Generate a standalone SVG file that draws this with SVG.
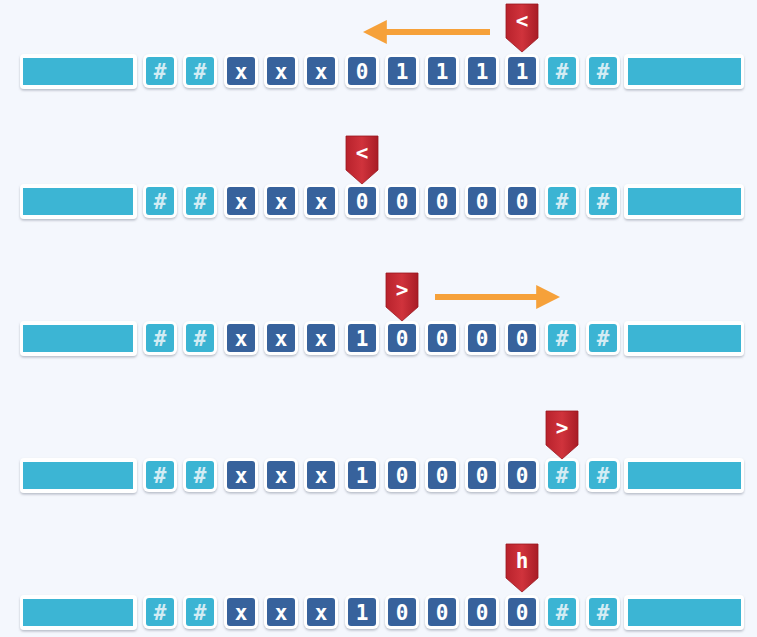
<svg xmlns="http://www.w3.org/2000/svg" width="757" height="637" viewBox="0 0 757 637">
<defs>
<filter id="sh" x="-20%" y="-20%" width="140%" height="160%">
<feDropShadow dx="0" dy="1.5" stdDeviation="1" flood-color="#6a7384" flood-opacity="0.45"/>
</filter>
<linearGradient id="red" x1="0" y1="0" x2="1" y2="0">
<stop offset="0" stop-color="#b8222c"/>
<stop offset="0.5" stop-color="#d0333c"/>
<stop offset="1" stop-color="#a81c26"/>
</linearGradient>
<marker id="ah" viewBox="0 0 10 10" refX="2" refY="5" markerWidth="4" markerHeight="4" orient="auto" markerUnits="strokeWidth">
<path d="M0,0 L10,5 L0,10 Z" fill="#f6a13a"/>
</marker>
</defs>
<style>
.frame{fill:#ffffff;filter:url(#sh)}
.dk{fill:#37629c}
.lt{fill:#3bb4d3}
.bar{fill:#3cb5d4}
.t{font-family:"DejaVu Sans Mono","Liberation Mono",monospace;font-weight:bold;font-size:21px;fill:#ffffff;text-anchor:middle}
.h{fill:#d3ecf4}
.mk{fill:url(#red);stroke:#9a1820;stroke-width:0.8}
.mt{font-family:"DejaVu Sans Mono","Liberation Mono",monospace;font-weight:bold;font-size:21px;fill:#ffffff;text-anchor:middle}
.arr{stroke:#f6a13a;stroke-width:6;fill:none}
</style>
<rect width="757" height="637" fill="#f4f7fd"/>

<!-- Row 1 -->
<g id="row1">
<g id="r1-left"><rect class="frame" x="20" y="54" width="117" height="35" rx="4"/><rect class="bar" x="23" y="58" width="110" height="27"/></g>
<g id="r1-c0" transform="translate(146,57)"><rect class="frame" x="-3" y="-3" width="34" height="34" rx="6"/><rect class="lt" width="28" height="28" rx="3"/><text class="t h" x="14" y="22">#</text></g>
<g id="r1-c1" transform="translate(186,57)"><rect class="frame" x="-3" y="-3" width="34" height="34" rx="6"/><rect class="lt" width="28" height="28" rx="3"/><text class="t h" x="14" y="22">#</text></g>
<g id="r1-c2" transform="translate(227,57)"><rect class="frame" x="-3" y="-3" width="34" height="34" rx="6"/><rect class="dk" width="28" height="28" rx="3"/><text class="t" x="14" y="22">x</text></g>
<g id="r1-c3" transform="translate(267,57)"><rect class="frame" x="-3" y="-3" width="34" height="34" rx="6"/><rect class="dk" width="28" height="28" rx="3"/><text class="t" x="14" y="22">x</text></g>
<g id="r1-c4" transform="translate(307,57)"><rect class="frame" x="-3" y="-3" width="34" height="34" rx="6"/><rect class="dk" width="28" height="28" rx="3"/><text class="t" x="14" y="22">x</text></g>
<g id="r1-c5" transform="translate(348,57)"><rect class="frame" x="-3" y="-3" width="34" height="34" rx="6"/><rect class="dk" width="28" height="28" rx="3"/><text class="t" x="14" y="22">0</text></g>
<g id="r1-c6" transform="translate(388,57)"><rect class="frame" x="-3" y="-3" width="34" height="34" rx="6"/><rect class="dk" width="28" height="28" rx="3"/><text class="t" x="14" y="22">1</text></g>
<g id="r1-c7" transform="translate(428,57)"><rect class="frame" x="-3" y="-3" width="34" height="34" rx="6"/><rect class="dk" width="28" height="28" rx="3"/><text class="t" x="14" y="22">1</text></g>
<g id="r1-c8" transform="translate(468,57)"><rect class="frame" x="-3" y="-3" width="34" height="34" rx="6"/><rect class="dk" width="28" height="28" rx="3"/><text class="t" x="14" y="22">1</text></g>
<g id="r1-c9" transform="translate(508,57)"><rect class="frame" x="-3" y="-3" width="34" height="34" rx="6"/><rect class="dk" width="28" height="28" rx="3"/><text class="t" x="14" y="22">1</text></g>
<g id="r1-c10" transform="translate(548,57)"><rect class="frame" x="-3" y="-3" width="34" height="34" rx="6"/><rect class="lt" width="28" height="28" rx="3"/><text class="t h" x="14" y="22">#</text></g>
<g id="r1-c11" transform="translate(589,57)"><rect class="frame" x="-3" y="-3" width="34" height="34" rx="6"/><rect class="lt" width="28" height="28" rx="3"/><text class="t h" x="14" y="22">#</text></g>
<g id="r1-right"><rect class="frame" x="624" y="54" width="120" height="35" rx="4"/><rect class="bar" x="628" y="58" width="113" height="27"/></g>
<g id="r1-head" transform="translate(506,4)"><path class="mk" d="M0,0 H32 V34 L16,48 L0,34 Z"/><text class="mt" x="16" y="24">&lt;</text></g>
</g>

<!-- Row 2 -->
<g id="row2">
<g id="r2-left"><rect class="frame" x="20" y="184" width="117" height="35" rx="4"/><rect class="bar" x="23" y="188" width="110" height="27"/></g>
<g id="r2-c0" transform="translate(146,187)"><rect class="frame" x="-3" y="-3" width="34" height="34" rx="6"/><rect class="lt" width="28" height="28" rx="3"/><text class="t h" x="14" y="22">#</text></g>
<g id="r2-c1" transform="translate(186,187)"><rect class="frame" x="-3" y="-3" width="34" height="34" rx="6"/><rect class="lt" width="28" height="28" rx="3"/><text class="t h" x="14" y="22">#</text></g>
<g id="r2-c2" transform="translate(227,187)"><rect class="frame" x="-3" y="-3" width="34" height="34" rx="6"/><rect class="dk" width="28" height="28" rx="3"/><text class="t" x="14" y="22">x</text></g>
<g id="r2-c3" transform="translate(267,187)"><rect class="frame" x="-3" y="-3" width="34" height="34" rx="6"/><rect class="dk" width="28" height="28" rx="3"/><text class="t" x="14" y="22">x</text></g>
<g id="r2-c4" transform="translate(307,187)"><rect class="frame" x="-3" y="-3" width="34" height="34" rx="6"/><rect class="dk" width="28" height="28" rx="3"/><text class="t" x="14" y="22">x</text></g>
<g id="r2-c5" transform="translate(348,187)"><rect class="frame" x="-3" y="-3" width="34" height="34" rx="6"/><rect class="dk" width="28" height="28" rx="3"/><text class="t" x="14" y="22">0</text></g>
<g id="r2-c6" transform="translate(388,187)"><rect class="frame" x="-3" y="-3" width="34" height="34" rx="6"/><rect class="dk" width="28" height="28" rx="3"/><text class="t" x="14" y="22">0</text></g>
<g id="r2-c7" transform="translate(428,187)"><rect class="frame" x="-3" y="-3" width="34" height="34" rx="6"/><rect class="dk" width="28" height="28" rx="3"/><text class="t" x="14" y="22">0</text></g>
<g id="r2-c8" transform="translate(468,187)"><rect class="frame" x="-3" y="-3" width="34" height="34" rx="6"/><rect class="dk" width="28" height="28" rx="3"/><text class="t" x="14" y="22">0</text></g>
<g id="r2-c9" transform="translate(508,187)"><rect class="frame" x="-3" y="-3" width="34" height="34" rx="6"/><rect class="dk" width="28" height="28" rx="3"/><text class="t" x="14" y="22">0</text></g>
<g id="r2-c10" transform="translate(548,187)"><rect class="frame" x="-3" y="-3" width="34" height="34" rx="6"/><rect class="lt" width="28" height="28" rx="3"/><text class="t h" x="14" y="22">#</text></g>
<g id="r2-c11" transform="translate(589,187)"><rect class="frame" x="-3" y="-3" width="34" height="34" rx="6"/><rect class="lt" width="28" height="28" rx="3"/><text class="t h" x="14" y="22">#</text></g>
<g id="r2-right"><rect class="frame" x="624" y="184" width="120" height="35" rx="4"/><rect class="bar" x="628" y="188" width="113" height="27"/></g>
<g id="r2-head" transform="translate(346,136)"><path class="mk" d="M0,0 H32 V34 L16,48 L0,34 Z"/><text class="mt" x="16" y="24">&lt;</text></g>
</g>

<!-- Row 3 -->
<g id="row3">
<g id="r3-left"><rect class="frame" x="20" y="321" width="117" height="35" rx="4"/><rect class="bar" x="23" y="325" width="110" height="27"/></g>
<g id="r3-c0" transform="translate(146,324)"><rect class="frame" x="-3" y="-3" width="34" height="34" rx="6"/><rect class="lt" width="28" height="28" rx="3"/><text class="t h" x="14" y="22">#</text></g>
<g id="r3-c1" transform="translate(186,324)"><rect class="frame" x="-3" y="-3" width="34" height="34" rx="6"/><rect class="lt" width="28" height="28" rx="3"/><text class="t h" x="14" y="22">#</text></g>
<g id="r3-c2" transform="translate(227,324)"><rect class="frame" x="-3" y="-3" width="34" height="34" rx="6"/><rect class="dk" width="28" height="28" rx="3"/><text class="t" x="14" y="22">x</text></g>
<g id="r3-c3" transform="translate(267,324)"><rect class="frame" x="-3" y="-3" width="34" height="34" rx="6"/><rect class="dk" width="28" height="28" rx="3"/><text class="t" x="14" y="22">x</text></g>
<g id="r3-c4" transform="translate(307,324)"><rect class="frame" x="-3" y="-3" width="34" height="34" rx="6"/><rect class="dk" width="28" height="28" rx="3"/><text class="t" x="14" y="22">x</text></g>
<g id="r3-c5" transform="translate(348,324)"><rect class="frame" x="-3" y="-3" width="34" height="34" rx="6"/><rect class="dk" width="28" height="28" rx="3"/><text class="t" x="14" y="22">1</text></g>
<g id="r3-c6" transform="translate(388,324)"><rect class="frame" x="-3" y="-3" width="34" height="34" rx="6"/><rect class="dk" width="28" height="28" rx="3"/><text class="t" x="14" y="22">0</text></g>
<g id="r3-c7" transform="translate(428,324)"><rect class="frame" x="-3" y="-3" width="34" height="34" rx="6"/><rect class="dk" width="28" height="28" rx="3"/><text class="t" x="14" y="22">0</text></g>
<g id="r3-c8" transform="translate(468,324)"><rect class="frame" x="-3" y="-3" width="34" height="34" rx="6"/><rect class="dk" width="28" height="28" rx="3"/><text class="t" x="14" y="22">0</text></g>
<g id="r3-c9" transform="translate(508,324)"><rect class="frame" x="-3" y="-3" width="34" height="34" rx="6"/><rect class="dk" width="28" height="28" rx="3"/><text class="t" x="14" y="22">0</text></g>
<g id="r3-c10" transform="translate(548,324)"><rect class="frame" x="-3" y="-3" width="34" height="34" rx="6"/><rect class="lt" width="28" height="28" rx="3"/><text class="t h" x="14" y="22">#</text></g>
<g id="r3-c11" transform="translate(589,324)"><rect class="frame" x="-3" y="-3" width="34" height="34" rx="6"/><rect class="lt" width="28" height="28" rx="3"/><text class="t h" x="14" y="22">#</text></g>
<g id="r3-right"><rect class="frame" x="624" y="321" width="120" height="35" rx="4"/><rect class="bar" x="628" y="325" width="113" height="27"/></g>
<g id="r3-head" transform="translate(386,273)"><path class="mk" d="M0,0 H32 V34 L16,48 L0,34 Z"/><text class="mt" x="16" y="24">&gt;</text></g>
</g>

<!-- Row 4 -->
<g id="row4">
<g id="r4-left"><rect class="frame" x="20" y="458" width="117" height="35" rx="4"/><rect class="bar" x="23" y="462" width="110" height="27"/></g>
<g id="r4-c0" transform="translate(146,461)"><rect class="frame" x="-3" y="-3" width="34" height="34" rx="6"/><rect class="lt" width="28" height="28" rx="3"/><text class="t h" x="14" y="22">#</text></g>
<g id="r4-c1" transform="translate(186,461)"><rect class="frame" x="-3" y="-3" width="34" height="34" rx="6"/><rect class="lt" width="28" height="28" rx="3"/><text class="t h" x="14" y="22">#</text></g>
<g id="r4-c2" transform="translate(227,461)"><rect class="frame" x="-3" y="-3" width="34" height="34" rx="6"/><rect class="dk" width="28" height="28" rx="3"/><text class="t" x="14" y="22">x</text></g>
<g id="r4-c3" transform="translate(267,461)"><rect class="frame" x="-3" y="-3" width="34" height="34" rx="6"/><rect class="dk" width="28" height="28" rx="3"/><text class="t" x="14" y="22">x</text></g>
<g id="r4-c4" transform="translate(307,461)"><rect class="frame" x="-3" y="-3" width="34" height="34" rx="6"/><rect class="dk" width="28" height="28" rx="3"/><text class="t" x="14" y="22">x</text></g>
<g id="r4-c5" transform="translate(348,461)"><rect class="frame" x="-3" y="-3" width="34" height="34" rx="6"/><rect class="dk" width="28" height="28" rx="3"/><text class="t" x="14" y="22">1</text></g>
<g id="r4-c6" transform="translate(388,461)"><rect class="frame" x="-3" y="-3" width="34" height="34" rx="6"/><rect class="dk" width="28" height="28" rx="3"/><text class="t" x="14" y="22">0</text></g>
<g id="r4-c7" transform="translate(428,461)"><rect class="frame" x="-3" y="-3" width="34" height="34" rx="6"/><rect class="dk" width="28" height="28" rx="3"/><text class="t" x="14" y="22">0</text></g>
<g id="r4-c8" transform="translate(468,461)"><rect class="frame" x="-3" y="-3" width="34" height="34" rx="6"/><rect class="dk" width="28" height="28" rx="3"/><text class="t" x="14" y="22">0</text></g>
<g id="r4-c9" transform="translate(508,461)"><rect class="frame" x="-3" y="-3" width="34" height="34" rx="6"/><rect class="dk" width="28" height="28" rx="3"/><text class="t" x="14" y="22">0</text></g>
<g id="r4-c10" transform="translate(548,461)"><rect class="frame" x="-3" y="-3" width="34" height="34" rx="6"/><rect class="lt" width="28" height="28" rx="3"/><text class="t h" x="14" y="22">#</text></g>
<g id="r4-c11" transform="translate(589,461)"><rect class="frame" x="-3" y="-3" width="34" height="34" rx="6"/><rect class="lt" width="28" height="28" rx="3"/><text class="t h" x="14" y="22">#</text></g>
<g id="r4-right"><rect class="frame" x="624" y="458" width="120" height="35" rx="4"/><rect class="bar" x="628" y="462" width="113" height="27"/></g>
<g id="r4-head" transform="translate(546,411)"><path class="mk" d="M0,0 H32 V34 L16,48 L0,34 Z"/><text class="mt" x="16" y="24">&gt;</text></g>
</g>

<!-- Row 5 -->
<g id="row5">
<g id="r5-left"><rect class="frame" x="20" y="595" width="117" height="35" rx="4"/><rect class="bar" x="23" y="599" width="110" height="27"/></g>
<g id="r5-c0" transform="translate(146,598)"><rect class="frame" x="-3" y="-3" width="34" height="34" rx="6"/><rect class="lt" width="28" height="28" rx="3"/><text class="t h" x="14" y="22">#</text></g>
<g id="r5-c1" transform="translate(186,598)"><rect class="frame" x="-3" y="-3" width="34" height="34" rx="6"/><rect class="lt" width="28" height="28" rx="3"/><text class="t h" x="14" y="22">#</text></g>
<g id="r5-c2" transform="translate(227,598)"><rect class="frame" x="-3" y="-3" width="34" height="34" rx="6"/><rect class="dk" width="28" height="28" rx="3"/><text class="t" x="14" y="22">x</text></g>
<g id="r5-c3" transform="translate(267,598)"><rect class="frame" x="-3" y="-3" width="34" height="34" rx="6"/><rect class="dk" width="28" height="28" rx="3"/><text class="t" x="14" y="22">x</text></g>
<g id="r5-c4" transform="translate(307,598)"><rect class="frame" x="-3" y="-3" width="34" height="34" rx="6"/><rect class="dk" width="28" height="28" rx="3"/><text class="t" x="14" y="22">x</text></g>
<g id="r5-c5" transform="translate(348,598)"><rect class="frame" x="-3" y="-3" width="34" height="34" rx="6"/><rect class="dk" width="28" height="28" rx="3"/><text class="t" x="14" y="22">1</text></g>
<g id="r5-c6" transform="translate(388,598)"><rect class="frame" x="-3" y="-3" width="34" height="34" rx="6"/><rect class="dk" width="28" height="28" rx="3"/><text class="t" x="14" y="22">0</text></g>
<g id="r5-c7" transform="translate(428,598)"><rect class="frame" x="-3" y="-3" width="34" height="34" rx="6"/><rect class="dk" width="28" height="28" rx="3"/><text class="t" x="14" y="22">0</text></g>
<g id="r5-c8" transform="translate(468,598)"><rect class="frame" x="-3" y="-3" width="34" height="34" rx="6"/><rect class="dk" width="28" height="28" rx="3"/><text class="t" x="14" y="22">0</text></g>
<g id="r5-c9" transform="translate(508,598)"><rect class="frame" x="-3" y="-3" width="34" height="34" rx="6"/><rect class="dk" width="28" height="28" rx="3"/><text class="t" x="14" y="22">0</text></g>
<g id="r5-c10" transform="translate(548,598)"><rect class="frame" x="-3" y="-3" width="34" height="34" rx="6"/><rect class="lt" width="28" height="28" rx="3"/><text class="t h" x="14" y="22">#</text></g>
<g id="r5-c11" transform="translate(589,598)"><rect class="frame" x="-3" y="-3" width="34" height="34" rx="6"/><rect class="lt" width="28" height="28" rx="3"/><text class="t h" x="14" y="22">#</text></g>
<g id="r5-right"><rect class="frame" x="624" y="595" width="120" height="35" rx="4"/><rect class="bar" x="628" y="599" width="113" height="27"/></g>
<g id="r5-head" transform="translate(506,544)"><path class="mk" d="M0,0 H32 V34 L16,48 L0,34 Z"/><text class="mt" x="16" y="24">h</text></g>
</g>

<!-- Direction arrows -->
<g id="connectors">
<line class="arr" x1="490" y1="32" x2="382" y2="32" marker-end="url(#ah)"/>
<line class="arr" x1="435" y1="297" x2="541" y2="297" marker-end="url(#ah)"/>
</g>
</svg>
